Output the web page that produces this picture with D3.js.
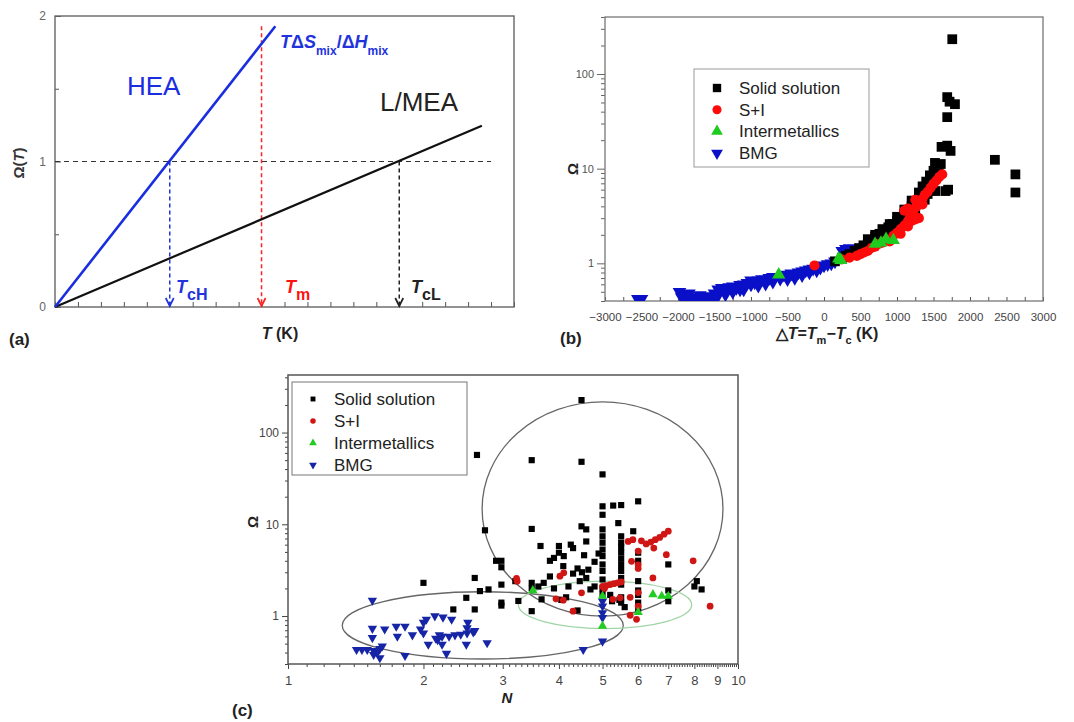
<!DOCTYPE html>
<html>
<head>
<meta charset="utf-8">
<script src="https://cdn.jsdelivr.net/npm/d3@7"></script>
<style>
  body { margin: 0; background: #fff; }
  svg { display: block; font-family: "Liberation Sans", Arial, sans-serif; }
</style>
</head>
<body>
<div id="chart"></div>
<script>
// ---------- data ----------
// panel (a): schematic lines, T in arbitrary units
var heaLine = [[0, 0], [9.6, 1.93]];
var lmeaLine = [[0, 0], [18.6, 1.245]];
var critT = [5, 9, 15];           // TcH, Tm, TcL
var critTop = [1, 1.93, 1];       // where the dashed arrows start
var omegaOne = [0, 19];           // dashed line at Omega = 1

// panel (b): [deltaT, Omega]
var bSolid = [[150,1.05],[250,1.15],[350,1.25],[420,1.35],[480,1.45],[540,1.55],[600,1.6],[650,1.75],[700,1.9],[760,2.05],
  [820,2.2],[880,2.4],[940,2.6],[1000,2.8],[1060,3.0],[1100,3.3],[1150,3.6],[1200,4.0],[1250,4.4],[1300,4.9],[1350,5.5],
  [1400,6.2],[1450,7.0],[1500,8.0],[1540,9.0],[1570,10.4],[1600,11.2],[900,2.15],[1000,2.4],[1100,2.75],[1200,3.4],
  [1300,4.2],[1380,4.7],[1420,5.4],[300,1.2],[560,1.5],[750,1.8],[1250,3.7],[1480,6.0],
  [600,1.8],[700,2.0],[800,2.3],[900,2.6],[1000,3.1],[1100,3.7],[1200,4.6],[1300,5.6],[1350,6.5],[1400,7.3],
  [1450,8.5],[1500,9.5],[1550,10.5],[1520,11.5],
  [1757,233],[1688,57],[1720,51],[1794,48],[1688,35],[1610,17],[1688,17.5],[1734,15.4],[2341,12.4],[2622,8.7],
  [2622,5.6],[1527,5.8],[1665,5.8],[1700,6.0]];
var bSI = [[-130,0.95],[240,1.1],[450,1.2],[550,1.3],[650,1.45],[750,1.6],[850,1.75],[950,1.95],[1000,2.1],[1050,2.3],
  [1100,2.5],[1150,2.8],[1180,3.1],[1220,3.5],[1260,3.9],[1300,4.3],[1350,4.8],[1380,5.3],[1420,5.7],[1460,6.3],
  [1500,6.9],[1540,7.5],[1580,8.2],[1620,8.7],[1100,3.6],[1150,3.8],[1250,4.7],[1250,2.9],[1300,3.0],[900,1.7],[1200,2.8],
  [350,1.15],[500,1.25],[600,1.35],[700,1.5],[800,1.65],[1050,2.05],[1150,2.45],[1350,4.2]];
var bInter = [[-620,0.76],[200,1.12],[230,1.08],[700,1.6],[780,1.65],[850,1.8],[950,1.75]];
var bBMG = [[-2550,0.42],[-2500,0.42],[-1980,0.5],[-1930,0.47],[-1880,0.44],[-1800,0.42],[-1750,0.44],[-1700,0.43],
  [-1650,0.42],[-1600,0.45],[-1550,0.44],[-1500,0.48],[-1450,0.53],[-1400,0.55],[-1350,0.52],[-1300,0.56],[-1250,0.57],
  [-1200,0.55],[-1150,0.59],[-1100,0.6],[-1050,0.62],[-1000,0.6],[-950,0.63],[-900,0.66],[-850,0.68],[-800,0.67],
  [-750,0.7],[-700,0.72],[-550,0.76],[-500,0.74],[-450,0.78],[-400,0.75],[-350,0.8],[-300,0.82],[-250,0.84],
  [-200,0.86],[-150,0.88],[-100,0.92],[-50,0.9],[0,0.95],[50,0.98],[100,1.0],[150,1.05],[300,1.42],[350,1.45],
  [400,1.4],[-1900,0.41],[-1450,0.46],[-1100,0.53],[-700,0.64],[-400,0.7],[-1000,0.66],[-600,0.69],
  [-1950,0.44],[-1850,0.48],[-1700,0.46],[-1600,0.41],[-1500,0.43],[-1350,0.47],[-1250,0.5],[-1150,0.53],
  [-900,0.58],[-800,0.61],[-500,0.68],[-300,0.75],[-200,0.8],[-100,0.84],[250,1.35]];

// panel (c): [N, Omega]
var cSolid = [[4.49,226],[2.63,57],[3.48,50],[4.49,48],[5.0,35],[5.0,15.7],[5.28,16],[5.5,16.2],[6.0,17.8],[5.0,12.7],
  [2.74,8.6],[3.48,8.9],[4.49,9.5],[4.6,8.8],[5.42,10.3],[5.85,8.4],
  [5.0,8.8],[5.0,7.4],[5.0,6.3],[5.0,5.3],[5.0,4.5],[5.0,3.65],[5.0,3.1],[5.0,2.5],[5.0,2.0],[5.0,1.75],
  [5.5,7.4],[5.5,6.3],[5.5,5.6],[5.5,4.9],[5.5,4.2],[5.5,3.6],[5.5,3.1],[5.5,2.6],[5.5,2.2],[5.5,1.6],[5.5,1.4],
  [5.6,1.25],[5.45,1.5],[6.0,4.9],[6.0,4.0],[6.0,2.4],[6.0,1.9],[6.0,1.7],[6.0,1.4],[6.0,1.2],
  [7.0,3.65],[7.0,1.9],[7.0,1.45],[8.1,2.4],[8.3,1.95],[8.0,2.1],
  [3.64,5.8],[4.0,5.8],[4.0,4.9],[4.3,5.5],[3.82,4.0],[4.09,3.5],[4.4,3.3],[4.5,3.0],[4.3,2.9],[4.6,2.6],[4.45,2.4],
  [4.2,2.1],[4.05,1.5],[4.15,1.6],[4.4,1.15],[4.7,1.95],[4.8,2.1],[5.2,1.7],[5.25,1.45],[3.7,2.3],[3.82,2.7],[3.6,2.1],
  [3.66,1.52],[3.48,1.13],[3.48,2.0],[3.48,2.3],[3.25,1.46],[3.2,2.4],[2.98,4.0],[2.98,3.4],[2.9,4.0],[2.98,2.2],
  [2.98,1.4],[2.98,1.3],[2.79,1.95],[2.67,1.87],[2.6,1.18],[2.6,2.6],[2.49,1.58],[2.33,1.18],[2.0,2.3],[3.9,2.0],
  [3.9,4.3],[4.25,6.0],[4.1,4.5],[4.6,6.5],[4.55,4.6],[4.65,3.2],[4.9,4.8],[4.8,3.9]];
var cSI = [[3.22,2.57],[3.23,2.4],[4.02,2.72],[4.1,2.96],[3.94,1.54],[4.09,1.49],[4.3,1.13],[4.49,1.79],[5.0,2.1],
  [5.1,2.15],[5.2,2.2],[5.3,2.25],[5.4,2.3],[5.5,2.35],[5.05,2.0],[5.47,1.58],[5.76,1.6],[5.7,6.5],[5.84,6.8],[6.0,5.1],
  [6.25,6.1],[6.4,6.4],[6.55,6.8],[6.7,7.2],[6.85,7.8],[7.0,8.4],[6.5,5.5],[6.47,2.6],[6.0,3.6],[6.0,3.3],[5.8,3.95],
  [6.93,4.67],[7.95,4.0],[8.67,1.28],[5.76,1.02],[5.95,0.92],[6.0,1.8],[6.0,1.28],[5.27,1.52],[6.1,6.6]];
var cInter = [[3.5,1.9],[5.0,1.65],[5.0,0.78],[6.0,1.1],[6.47,1.72],[6.77,1.65],[7.0,1.65]];
var cBMG = [[1.54,1.48],[1.54,0.73],[1.54,0.58],[1.64,0.72],[1.74,0.77],[1.82,0.77],[1.75,0.6],[1.89,0.62],[2.0,0.85],
  [2.0,0.65],[2.03,0.92],[2.12,1.0],[2.21,0.97],[2.31,0.92],[2.15,0.55],[2.2,0.6],[2.28,0.6],[2.35,0.62],[2.42,0.63],
  [2.5,0.65],[2.58,0.67],[2.05,0.49],[2.2,0.49],[2.49,0.49],[2.51,0.85],[2.5,0.74],[1.97,0.72],[1.42,0.43],[1.46,0.43],
  [1.5,0.43],[1.55,0.42],[1.6,0.44],[1.55,0.38],[1.6,0.35],[1.82,0.37],[2.25,0.39],[5.0,1.45],[5.0,1.28],[5.0,1.08],
  [5.0,0.96],[5.0,0.53],[4.53,0.43],[2.6,0.69],[2.77,0.51],[2.13,0.57],[2.17,0.62],[1.58,0.4],[1.62,0.47]];
// ellipses as [Nmin, Nmax, OmegaMin, OmegaMax]
var cEllipses = [[2.7, 9.26, 1.0, 216], [1.32, 5.56, 0.34, 1.84], [3.25, 7.89, 0.73, 2.4]];
var cEllipseColors = ["#666", "#666", "#9fd4a4"];

var legendNames = ["Solid solution", "S+I", "Intermetallics", "BMG"];
var aTicks = [0, 1, 2];
var bTicks = [-3000,-2500,-2000,-1500,-1000,-500,0,500,1000,1500,2000,2500,3000];
var cTicks = [1,2,3,4,5,6,7,8,9,10];

// ---------- svg ----------
var svg = d3.select("#chart").append("svg")
    .attr("width", 1074)
    .attr("height", 722);
svg.append("rect").attr("width", 1074).attr("height", 722).attr("fill", "#fff");

var defs = svg.append("defs");

// marker helpers
function symbolPath(type, size) {
  return d3.symbol().type(type).size(size)();
}
function drawMarkers(g, data, x, y, kind, size, color) {
  var type = kind == "square" ? d3.symbolSquare : kind == "circle" ? d3.symbolCircle : d3.symbolTriangle;
  var rot = kind == "down" ? 180 : 0;
  g.selectAll(null)
    .data(data)
    .enter().append("path")
    .attr("d", symbolPath(type, size))
    .attr("transform", function(d) { return "translate(" + x(d[0]) + "," + y(d[1]) + ") rotate(" + rot + ")"; })
    .attr("fill", color);
}
// tick-only axis: drop the empty labels
function ticksOnly(g, color) {
  g.select(".domain").remove();
  g.selectAll("text").remove();
  g.selectAll("line").attr("stroke", color);
}

// =================== panel (a) ===================
var xA = d3.scaleLinear().domain([0, 20]).range([55, 514]);
var yA = d3.scaleLinear().domain([0, 2]).range([307, 16]);
var ga = svg.append("g");

ga.append("g")
  .attr("transform", "translate(0,307)")
  .call(d3.axisBottom(xA).tickValues(d3.range(0, 21)).tickSize(-5).tickFormat(""))
  .call(ticksOnly, "#555");
ga.append("g")
  .attr("transform", "translate(55,0)")
  .call(d3.axisLeft(yA).tickValues([0.5, 1.5]).tickSize(-4).tickFormat(""))
  .call(ticksOnly, "#555");
ga.append("g")
  .attr("transform", "translate(55,0)")
  .call(d3.axisLeft(yA).tickValues(aTicks).tickSize(-6).tickPadding(9).tickFormat(d3.format("d")))
  .call(function(g) {
    g.select(".domain").remove();
    g.selectAll("line").attr("stroke", "#555");
    g.selectAll("text").attr("font-size", 12).attr("fill", "#666").attr("font-family", "Liberation Sans, Arial");
  });
ga.append("rect")
  .attr("x", 55).attr("y", 16).attr("width", 459).attr("height", 291)
  .attr("fill", "none").attr("stroke", "#666").attr("stroke-width", 1.4);

var lineA = d3.line().x(function(d) { return xA(d[0]); }).y(function(d) { return yA(d[1]); });

// dashed guide at Omega = 1
ga.append("line")
  .attr("x1", xA(omegaOne[0])).attr("x2", xA(omegaOne[1]))
  .attr("y1", yA(1)).attr("y2", yA(1))
  .attr("stroke", "#333").attr("stroke-width", 1.1).attr("stroke-dasharray", "5,4");

// dashed arrows
var arrowColors = ["#2233dd", "#ff2222", "#222"];
critT.forEach(function(t, i) {
  ga.append("line")
    .attr("x1", xA(t)).attr("x2", xA(t))
    .attr("y1", yA(critTop[i])).attr("y2", yA(0) - 2)
    .attr("stroke", arrowColors[i]).attr("stroke-width", 1.5).attr("stroke-dasharray", "4,3");
  ga.append("path")
    .attr("d", "M" + (xA(t) - 4) + "," + (yA(0) - 9) + "L" + xA(t) + "," + (yA(0) - 1) + "L" + (xA(t) + 4) + "," + (yA(0) - 9))
    .attr("fill", "none").attr("stroke", arrowColors[i]).attr("stroke-width", 1.7);
});

ga.append("path").datum(lmeaLine).attr("d", lineA)
  .attr("stroke", "#111").attr("stroke-width", 2.2).attr("fill", "none");
ga.append("path").datum(heaLine).attr("d", lineA)
  .attr("stroke", "#1a2ee0").attr("stroke-width", 2.6).attr("fill", "none");

ga.append("text").attr("x", 127).attr("y", 95).attr("font-size", 26).attr("fill", "#1a2ee0").text("HEA");
ga.append("text").attr("x", 380).attr("y", 111).attr("font-size", 26).attr("fill", "#222").text("L/MEA");

var eq = ga.append("text").attr("x", 280).attr("y", 48).attr("font-size", 18)
  .attr("font-weight", "bold").attr("fill", "#2233dd");
eq.append("tspan").attr("font-style", "italic").text("T");
eq.append("tspan").text("Δ");
eq.append("tspan").attr("font-style", "italic").text("S");
eq.append("tspan").attr("font-size", 12).attr("dy", 7).text("mix");
eq.append("tspan").attr("dy", -7).text("/Δ");
eq.append("tspan").attr("font-style", "italic").text("H");
eq.append("tspan").attr("font-size", 12).attr("dy", 7).text("mix");

var critLabels = [["cH", "#2233dd", 176], ["m", "#ff1111", 285], ["cL", "#222", 411]];
critLabels.forEach(function(c) {
  var t = ga.append("text").attr("x", c[2]).attr("y", 293).attr("font-weight", "bold").attr("fill", c[1]);
  t.append("tspan").attr("font-size", 18).attr("font-style", "italic").text("T");
  t.append("tspan").attr("font-size", 16).attr("dy", 7).text(c[0]);
});

ga.append("text")
  .attr("transform", "translate(24,163) rotate(-90)")
  .attr("text-anchor", "middle").attr("font-size", 15).attr("font-weight", "bold").attr("fill", "#333")
  .call(function(t) {
    t.append("tspan").text("Ω(");
    t.append("tspan").attr("font-style", "italic").text("T");
    t.append("tspan").text(")");
  });
ga.append("text").attr("x", 280).attr("y", 339).attr("text-anchor", "middle")
  .attr("font-size", 16).attr("font-weight", "bold").attr("fill", "#222")
  .call(function(t) {
    t.append("tspan").attr("font-style", "italic").text("T");
    t.append("tspan").text(" (K)");
  });
ga.append("text").attr("x", 9).attr("y", 345).attr("font-size", 17).attr("font-weight", "bold")
  .attr("fill", "#222").text("(a)");

// =================== panel (b) ===================
var xB = d3.scaleLinear().domain([-3000, 3000]).range([605, 1043]);
var yB = d3.scaleLog().domain([0.4, 400]).range([301, 17]);
var gb = svg.append("g");

defs.append("clipPath").attr("id", "clipB")
  .append("rect").attr("x", 605).attr("y", 17).attr("width", 438).attr("height", 284);

var minorB = [];
[0.1, 1, 10, 100].forEach(function(dec) {
  for (var k = 2; k <= 9; k++) { var v = k * dec; if (v >= 0.4 && v <= 400) minorB.push(v); }
});
gb.append("g").attr("transform", "translate(605,0)")
  .call(d3.axisLeft(yB).tickValues(minorB).tickSize(4).tickFormat(""))
  .call(ticksOnly, "#666");
gb.append("g").attr("transform", "translate(605,0)")
  .call(d3.axisLeft(yB).tickValues([1, 10, 100]).tickSize(8).tickPadding(3).tickFormat(d3.format("d")))
  .call(function(g) {
    g.select(".domain").remove();
    g.selectAll("line").attr("stroke", "#666");
    g.selectAll("text").attr("font-size", 11).attr("fill", "#555").attr("font-family", "Liberation Sans, Arial");
  });
gb.append("g").attr("transform", "translate(0,301)")
  .call(d3.axisBottom(xB).tickValues(d3.range(-3000, 3001, 250)).tickSize(-4).tickFormat(""))
  .call(ticksOnly, "#555");
gb.append("g").attr("transform", "translate(0,301)")
  .call(d3.axisBottom(xB).tickValues(bTicks).tickSize(0).tickPadding(12)
    .tickFormat(function(d) { return d < 0 ? "\u2212" + (-d) : d; }))
  .call(function(g) {
    g.select(".domain").remove();
    g.selectAll("text").attr("font-size", 11.5).attr("fill", "#444").attr("font-family", "Liberation Sans, Arial");
  });
gb.append("rect")
  .attr("x", 605).attr("y", 17).attr("width", 438).attr("height", 284)
  .attr("fill", "none").attr("stroke", "#777").attr("stroke-width", 1.3);

var pb = gb.append("g").attr("clip-path", "url(#clipB)");
drawMarkers(pb, bBMG, xB, yB, "down", 80, "#0a10c8");
drawMarkers(pb, bSolid, xB, yB, "square", 95, "#000");
drawMarkers(pb, bSI, xB, yB, "circle", 80, "#ff0a0a");
drawMarkers(pb, bInter, xB, yB, "up", 75, "#1ecb1e");

// legend (b)
var legB = gb.append("g");
legB.append("rect").attr("x", 694).attr("y", 69).attr("width", 175).attr("height", 98)
  .attr("fill", "#fff").attr("stroke", "#999").attr("stroke-width", 1);
var legBMarks = [["square", 70, "#000"], ["circle", 65, "#ff0a0a"], ["up", 60, "#1ecb1e"], ["down", 60, "#0a10c8"]];
legendNames.forEach(function(name, i) {
  var yy = 88 + i * 21.7;
  drawMarkers(legB, [[0, 0]], function() { return 717; }, function() { return yy; }, legBMarks[i][0], legBMarks[i][1], legBMarks[i][2]);
  legB.append("text").attr("x", 739).attr("y", yy + 6).attr("font-size", 17).attr("fill", "#222").text(name);
});

gb.append("text")
  .attr("transform", "translate(578,169) rotate(-90)")
  .attr("text-anchor", "middle").attr("font-size", 15).attr("font-weight", "bold").attr("fill", "#222").text("Ω");
gb.append("text").attr("x", 827).attr("y", 339).attr("text-anchor", "middle")
  .attr("font-size", 16).attr("font-weight", "bold").attr("fill", "#222")
  .call(function(t) {
    t.append("tspan").text("△");
    t.append("tspan").attr("font-style", "italic").text("T");
    t.append("tspan").text("=");
    t.append("tspan").attr("font-style", "italic").text("T");
    t.append("tspan").attr("font-size", 11).attr("dy", 5).text("m");
    t.append("tspan").attr("dy", -5).text("\u2212");
    t.append("tspan").attr("font-style", "italic").text("T");
    t.append("tspan").attr("font-size", 11).attr("dy", 5).text("c");
    t.append("tspan").attr("dy", -5).text(" (K)");
  });
gb.append("text").attr("x", 560).attr("y", 344).attr("font-size", 17).attr("font-weight", "bold")
  .attr("fill", "#222").text("(b)");

// =================== panel (c) ===================
var xC = d3.scaleLog().domain([1, 10]).range([288, 738]);
var yC = d3.scaleLog().domain([0.3, 424]).range([664, 375]);
var gc = svg.append("g");

defs.append("clipPath").attr("id", "clipC")
  .append("rect").attr("x", 288).attr("y", 375).attr("width", 450).attr("height", 289);

var minorCx = [];
for (var v = 1.1; v < 10; v += 0.1) { var r = Math.round(v * 10) / 10; if (r % 1 != 0) minorCx.push(r); }
var minorCy = [];
[0.1, 1, 10, 100].forEach(function(dec) {
  for (var k = 2; k <= 9; k++) { var vv = k * dec; if (vv >= 0.3 && vv <= 424) minorCy.push(vv); }
});
gc.append("g").attr("transform", "translate(0,664)")
  .call(d3.axisBottom(xC).tickValues(minorCx).tickSize(3).tickFormat(""))
  .call(ticksOnly, "#444");
gc.append("g").attr("transform", "translate(0,664)")
  .call(d3.axisBottom(xC).tickValues(cTicks).tickSize(5).tickPadding(7).tickFormat(d3.format("d")))
  .call(function(g) {
    g.select(".domain").remove();
    g.selectAll("line").attr("stroke", "#444");
    g.selectAll("text").attr("font-size", 13).attr("fill", "#444").attr("font-family", "Liberation Sans, Arial");
  });
gc.append("g").attr("transform", "translate(288,0)")
  .call(d3.axisLeft(yC).tickValues(minorCy).tickSize(3).tickFormat(""))
  .call(ticksOnly, "#444");
gc.append("g").attr("transform", "translate(288,0)")
  .call(d3.axisLeft(yC).tickValues([1, 10, 100]).tickSize(6).tickPadding(3).tickFormat(d3.format("d")))
  .call(function(g) {
    g.select(".domain").remove();
    g.selectAll("line").attr("stroke", "#444");
    g.selectAll("text").attr("font-size", 12).attr("fill", "#444").attr("font-family", "Liberation Sans, Arial");
  });
gc.append("rect")
  .attr("x", 288).attr("y", 375).attr("width", 450).attr("height", 289)
  .attr("fill", "none").attr("stroke", "#555").attr("stroke-width", 1.5);

var pc = gc.append("g").attr("clip-path", "url(#clipC)");
cEllipses.forEach(function(e, i) {
  var x0 = xC(e[0]), x1 = xC(e[1]), y0 = yC(e[2]), y1 = yC(e[3]);
  pc.append("ellipse")
    .attr("cx", (x0 + x1) / 2).attr("cy", (y0 + y1) / 2)
    .attr("rx", (x1 - x0) / 2).attr("ry", (y0 - y1) / 2)
    .attr("fill", "none").attr("stroke", cEllipseColors[i]).attr("stroke-width", 1.3);
});
drawMarkers(pc, cSolid, xC, yC, "square", 38, "#000");
drawMarkers(pc, cSI, xC, yC, "circle", 36, "#d01515");
drawMarkers(pc, cBMG, xC, yC, "down", 38, "#1525a5");
drawMarkers(pc, cInter, xC, yC, "up", 38, "#22cc22");

// legend (c)
var legC = gc.append("g");
legC.append("rect").attr("x", 292).attr("y", 382).attr("width", 175).attr("height", 93)
  .attr("fill", "#fff").attr("stroke", "#777").attr("stroke-width", 1);
var legCMarks = [["square", 24, "#000"], ["circle", 24, "#d01515"], ["up", 26, "#22cc22"], ["down", 26, "#1525a5"]];
legendNames.forEach(function(name, i) {
  var yy = 399 + i * 22;
  drawMarkers(legC, [[0, 0]], function() { return 313; }, function() { return yy; }, legCMarks[i][0], legCMarks[i][1], legCMarks[i][2]);
  legC.append("text").attr("x", 334).attr("y", yy + 6).attr("font-size", 17).attr("fill", "#222").text(name);
});

gc.append("text")
  .attr("transform", "translate(258,522) rotate(-90)")
  .attr("text-anchor", "middle").attr("font-size", 15).attr("font-weight", "bold").attr("fill", "#222").text("Ω");
gc.append("text").attr("x", 507).attr("y", 703).attr("text-anchor", "middle")
  .attr("font-size", 15).attr("font-weight", "bold").attr("font-style", "italic").attr("fill", "#222").text("N");
gc.append("text").attr("x", 232).attr("y", 716).attr("font-size", 17).attr("font-weight", "bold")
  .attr("fill", "#222").text("(c)");
</script>
</body>
</html>
